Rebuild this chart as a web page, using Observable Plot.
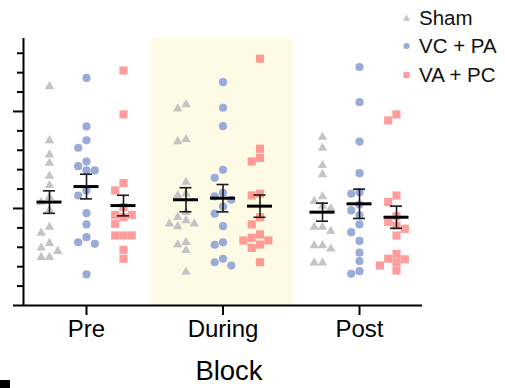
<!DOCTYPE html>
<html><head><meta charset="utf-8">
<script src="https://cdn.jsdelivr.net/npm/d3@7"></script>
<script src="https://cdn.jsdelivr.net/npm/@observablehq/plot@0.6"></script>
<style>
body{margin:0;background:#fff;font-family:"Liberation Sans",Arial,sans-serif;}
#wrap{position:relative;width:505px;height:388px;overflow:hidden;}
#legend{position:absolute;left:400px;top:4px;font-size:20.5px;line-height:28.3px;color:#111;}
.row{display:flex;align-items:center;height:28.3px;white-space:nowrap;}
.row svg{width:13px;height:12px;margin-right:6px;flex:none;}
#corner{position:absolute;left:0;top:380px;width:10px;height:8px;background:#000;}
</style></head><body>
<div id="wrap"><div id="chart"></div><div id="legend"></div><div id="corner"></div></div>
<script>
// ---- data ----
const blocks = ["Pre", "During", "Post"];
const series = ["Sham", "VC + PA", "VA + PC"];
const shadedBlock = "During";

const preSham    = [11.29, 8.5, 7.77, 7.34, 6.67, 6.19, 5.58, 5.33, 4.93, 4.04, 3.74, 3.21, 2.97, 2.80, 2.49, 2.49];
const preVC      = [11.73, 9.23, 8.51, 8.13, 7.42, 7.18, 6.96, 6.96, 5.93, 5.67, 4.76, 4.18, 3.52, 3.26, 3.18, 1.60];
const preVA      = [12.11, 9.85, 6.31, 5.93, 5.07, 4.67, 4.67, 4.55, 4.21, 3.61, 3.61, 3.61, 2.87, 2.41];
const duringSham = [10.36, 10.14, 8.56, 8.45, 6.36, 5.76, 5.67, 4.81, 4.55, 4.38, 4.21, 4.21, 4.07, 3.26, 3.14, 2.84, 1.72];
const duringVC   = [11.51, 10.19, 9.24, 6.99, 6.58, 5.81, 5.62, 5.45, 5.10, 4.73, 4.09, 3.26, 3.13, 2.41, 2.23, 2.06];
const duringVA   = [12.72, 8.08, 7.61, 7.42, 5.76, 5.67, 4.55, 4.18, 3.66, 3.49, 3.35, 3.35, 3.14, 2.97, 2.23];
const postSham   = [8.68, 8.11, 7.22, 6.75, 5.62, 5.38, 5.12, 5.0, 4.04, 4.04, 3.83, 3.09, 3.09, 2.92, 2.20, 2.20];
const postVC     = [12.29, 10.48, 8.45, 6.82, 5.84, 5.76, 5.2, 4.90, 4.64, 4.18, 3.78, 3.33, 2.72, 2.29, 1.77, 1.63];
const postVA     = [9.85, 9.54, 5.67, 5.33, 4.6, 4.3, 4.12, 3.95, 3.61, 2.66, 2.41, 2.38, 2.23, 2.06, 1.80];

// group means and SEM (per block: Pre, During, Post)
const meanSham = [5.33, 5.45, 4.81];
const semSham  = [0.58, 0.62, 0.465];
const meanVC   = [6.13, 5.53, 5.24];
const semVC    = [0.635, 0.705, 0.755];
const meanVA   = [5.15, 5.12, 4.55];
const semVA    = [0.53, 0.575, 0.57];

const yMinorTicks = [1,2,3,4,6,7,8,9,11,12,13];
const yMajorTicks = [0,5,10];

// ---- layout ----
const W = 505, H = 388, mT = 38, mB = 83, mL = 23, mR = 83;
const xDomain = [-0.4615, 2.4615];
const yDomain = [0, 13.76];
const kx = (W - mL - mR) / (xDomain[1] - xDomain[0]);
const ky = (H - mT - mB) / (yDomain[1] - yDomain[0]);
const seriesOffsetPx = 37, swarmStepPx = 8.3, swarmDist = 8;

const colors = {"Sham": "#c4c4c4", "VC + PA": "#9aabd9", "VA + PC": "#ff4d4d"};

function swarm(values) {
  const idx = values.map((v, i) => i).sort((a, b) => values[b] - values[a]);
  const placed = [], off = new Array(values.length).fill(0);
  for (const i of idx) {
    const yp = values[i] * ky;
    for (const k of [0, -1, 1, -2, 2, -3, 3]) {
      const xp = k * swarmStepPx;
      if (placed.every(p => Math.hypot(p.x - xp, p.y - yp) >= swarmDist)) {
        off[i] = xp; placed.push({x: xp, y: yp}); break;
      }
    }
  }
  return off;
}

const groups = [
  [preSham, preVC, preVA],
  [duringSham, duringVC, duringVA],
  [postSham, postVC, postVA]
];
const points = [];
groups.forEach((g, bi) => g.forEach((vals, si) => {
  const off = swarm(vals);
  vals.forEach((v, j) => points.push({
    block: blocks[bi], series: series[si],
    x: bi + ((si - 1) * seriesOffsetPx + off[j]) / kx, y: v
  }));
}));

const meansBySeries = [meanSham, meanVC, meanVA];
const semBySeries = [semSham, semVC, semVA];
const stats = [];
blocks.forEach((b, bi) => series.forEach((s, si) => {
  stats.push({block: b, series: s, x: bi + (si - 1) * seriesOffsetPx / kx,
    m: meansBySeries[si][bi], e: semBySeries[si][bi]});
}));

const capHalf = 6 / kx, meanHalf = 12.5 / kx, shadeHalf = 71 / kx;

const plot = Plot.plot({
  width: W, height: H,
  marginTop: mT, marginBottom: mB, marginLeft: mL, marginRight: mR,
  style: {fontFamily: '"Liberation Sans", Arial, sans-serif', background: "transparent", color: "#000"},
  x: {domain: xDomain},
  y: {domain: yDomain},
  marks: [
    Plot.rect([shadedBlock], {
      x1: d => blocks.indexOf(d) - shadeHalf, x2: d => blocks.indexOf(d) + shadeHalf,
      y1: yDomain[0], y2: yDomain[1], fill: "#fdfbe6"
    }),
    Plot.dot(points.filter(d => d.series === "Sham"), {x: "x", y: "y", symbol: "triangle", r: 3.5, fill: colors["Sham"]}),
    Plot.dot(points.filter(d => d.series === "VC + PA"), {x: "x", y: "y", symbol: "circle", r: 4.1, fill: colors["VC + PA"]}),
    Plot.dot(points.filter(d => d.series === "VA + PC"), {x: "x", y: "y", symbol: "square", r: 4.6, fill: colors["VA + PC"], fillOpacity: 0.55}),
    Plot.ruleX(stats, {x: "x", y1: d => d.m - d.e, y2: d => d.m + d.e, stroke: "#1a1a1a", strokeWidth: 1.6}),
    Plot.ruleY(stats, {y: d => d.m + d.e, x1: d => d.x - capHalf, x2: d => d.x + capHalf, stroke: "#1a1a1a", strokeWidth: 1.6}),
    Plot.ruleY(stats, {y: d => d.m - d.e, x1: d => d.x - capHalf, x2: d => d.x + capHalf, stroke: "#1a1a1a", strokeWidth: 1.6}),
    Plot.ruleY(stats, {y: "m", x1: d => d.x - meanHalf, x2: d => d.x + meanHalf, stroke: "#000", strokeWidth: 3}),
    Plot.ruleY([yDomain[0]], {stroke: "#000", strokeWidth: 2}),
    Plot.ruleX([xDomain[0]], {stroke: "#000", strokeWidth: 2}),
    Plot.axisY({ticks: yMinorTicks, tickSize: 6, tickFormat: () => "", label: null, strokeWidth: 2, stroke: "#000"}),
    Plot.axisY({ticks: yMajorTicks, tickSize: 10, tickFormat: () => "", label: null, strokeWidth: 2, stroke: "#000"}),
    Plot.axisX({ticks: [0, 1, 2], tickFormat: i => blocks[i], tickSize: 10, tickPadding: 4, fontSize: 24,
      label: null, strokeWidth: 2, stroke: "#000", fill: "#000"}),
    Plot.text(["Block"], {frameAnchor: "bottom", dy: 74, dx: 6, fontSize: 27.5, fill: "#000"})
  ]
});
document.getElementById("chart").appendChild(plot);

// legend
const symPaths = {
  "Sham": '<path d="M6.5,2.2 L10,8.8 L3,8.8 Z" fill="' + colors["Sham"] + '"/>',
  "VC + PA": '<circle cx="6.5" cy="6" r="3.1" fill="' + colors["VC + PA"] + '"/>',
  "VA + PC": '<rect x="3.4" y="2.9" width="6.2" height="6.2" fill="' + colors["VA + PC"] + '" fill-opacity="0.55"/>'
};
const leg = document.getElementById("legend");
series.forEach(s => {
  const row = document.createElement("div");
  row.className = "row";
  row.innerHTML = '<svg viewBox="0 0 13 12">' + symPaths[s] + '</svg><span>' + s + '</span>';
  leg.appendChild(row);
});
</script>
</body></html>
